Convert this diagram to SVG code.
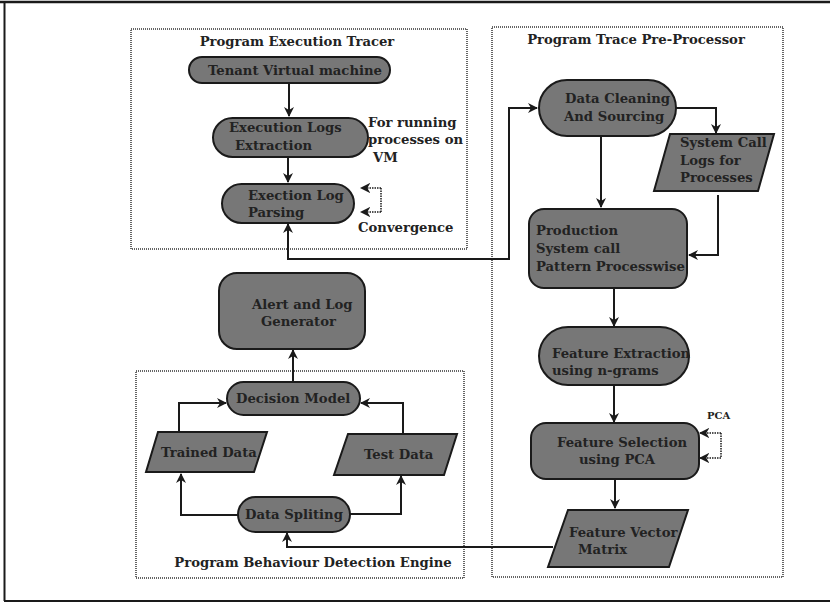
<svg xmlns="http://www.w3.org/2000/svg" width="830" height="603" viewBox="0 0 830 603">
  <defs>
    <marker id="arr" viewBox="0 0 10 10" refX="9" refY="5" markerWidth="5" markerHeight="5" orient="auto-start-reverse" markerUnits="strokeWidth">
      <path d="M0,0 L10,5 L0,10 L3,5 Z" fill="#1a1a1a"/>
    </marker>
    <marker id="arrs" viewBox="0 0 10 10" refX="9" refY="5" markerWidth="7" markerHeight="7" orient="auto" markerUnits="strokeWidth">
      <path d="M0,0 L10,5 L0,10 L3,5 Z" fill="#1a1a1a"/>
    </marker>
  </defs>
  <style>
    text { font-family: "DejaVu Serif", "Liberation Serif", serif; font-weight: bold; fill: #222; font-size: 13.2px; }
    .node { fill: #777; stroke: #1a1a1a; stroke-width: 2; }
    .group { fill: none; stroke: #333; stroke-width: 1.5; stroke-dasharray: 1 1; }
    .conn { fill: none; stroke: #1a1a1a; stroke-width: 2; }
    .loop { fill: none; stroke: #1a1a1a; stroke-width: 1.5; stroke-dasharray: 1.5 1; }
  </style>

  <!-- frame -->
  <g id="frame" stroke="#1a1a1a" fill="none">
    <line x1="0" y1="2" x2="830" y2="2" stroke-width="2.5"/>
    <line x1="4.5" y1="2" x2="4.5" y2="601" stroke-width="2"/>
    <line x1="4" y1="601" x2="830" y2="601" stroke-width="2"/>
  </g>

  <!-- subsystem boxes -->
  <g id="tracer-box">
    <rect class="group" x="131" y="29" width="336" height="220"/>
    <text x="297" y="46" text-anchor="middle">Program Execution Tracer</text>
  </g>
  <g id="preprocessor-box">
    <rect class="group" x="492" y="27" width="291" height="550"/>
    <text x="636" y="44" text-anchor="middle">Program Trace Pre-Processor</text>
  </g>
  <g id="engine-box">
    <rect class="group" x="136" y="371" width="328" height="207"/>
    <text x="313" y="567" text-anchor="middle">Program Behaviour Detection Engine</text>
  </g>

  <!-- connectors -->
  <g id="connectors">
    <path class="conn" d="M289,83 V116" marker-end="url(#arr)"/>
    <path class="conn" d="M288,157 V182" marker-end="url(#arr)"/>
    <path class="conn" d="M288,224 V259 H509 V108 H537" marker-start="url(#arr)" marker-end="url(#arr)"/>
    <path class="conn" d="M676,108 H716 V133" marker-end="url(#arr)"/>
    <path class="conn" d="M601,136 V207" marker-end="url(#arr)"/>
    <path class="conn" d="M718,195 V255 H689" marker-end="url(#arr)"/>
    <path class="conn" d="M614,288 V326" marker-end="url(#arr)"/>
    <path class="conn" d="M614,385 V422" marker-end="url(#arr)"/>
    <path class="conn" d="M615,479 V508" marker-end="url(#arr)"/>
    <path class="conn" d="M553,547 H287 V533" marker-end="url(#arr)"/>
    <path class="conn" d="M238,515 H181 V474" marker-end="url(#arr)"/>
    <path class="conn" d="M350,514 H401 V476" marker-end="url(#arr)"/>
    <path class="conn" d="M179,432 V403 H226" marker-end="url(#arr)"/>
    <path class="conn" d="M403,434 V403 H361" marker-end="url(#arr)"/>
    <path class="conn" d="M293,382 V350" marker-end="url(#arr)"/>
    <!-- self loops -->
    <path class="loop" d="M381,188 V212"/>
    <path class="loop" d="M381,188 H361" marker-end="url(#arrs)"/>
    <path class="loop" d="M381,212 H361" marker-end="url(#arrs)"/>
    <path class="loop" d="M721,433 V458"/>
    <path class="loop" d="M721,433 H700" marker-end="url(#arrs)"/>
    <path class="loop" d="M721,458 H700" marker-end="url(#arrs)"/>
  </g>

  <!-- Program Execution Tracer nodes -->
  <g id="tenant-vm">
    <rect class="node" x="189" y="57" width="201" height="26" rx="13"/>
    <text x="208" y="75">Tenant Virtual machine</text>
  </g>
  <g id="log-extraction">
    <rect class="node" x="213" y="118" width="155" height="39" rx="19.5"/>
    <text x="229" y="132">Execution Logs</text>
    <text x="235" y="150">Extraction</text>
  </g>
  <g id="running-note">
    <text x="368" y="127">For running</text>
    <text x="368" y="144">processes on</text>
    <text x="373" y="162">VM</text>
  </g>
  <g id="log-parsing">
    <rect class="node" x="222" y="184" width="132" height="39" rx="19.5"/>
    <text x="248" y="200">Exection Log</text>
    <text x="248" y="217">Parsing</text>
  </g>
  <g id="convergence-label">
    <text x="358" y="232">Convergence</text>
  </g>

  <!-- Program Trace Pre-Processor nodes -->
  <g id="data-cleaning">
    <rect class="node" x="539" y="80" width="137" height="56" rx="28"/>
    <text x="565" y="103">Data Cleaning</text>
    <text x="564" y="121">And Sourcing</text>
  </g>
  <g id="syscall-logs">
    <polygon class="node" points="670,134 774,134 758,191 654,191"/>
    <text x="680" y="147">System Call</text>
    <text x="680" y="165">Logs for</text>
    <text x="680" y="182">Processes</text>
  </g>
  <g id="pattern-production">
    <rect class="node" x="529" y="209" width="158" height="79" rx="15"/>
    <text x="536" y="235">Production</text>
    <text x="536" y="253">System call</text>
    <text x="536" y="271">Pattern Processwise</text>
  </g>
  <g id="feature-extraction">
    <rect class="node" x="539" y="327" width="150" height="58" rx="29"/>
    <text x="552" y="358">Feature Extraction</text>
    <text x="552" y="375">using n-grams</text>
  </g>
  <g id="feature-selection">
    <rect class="node" x="531" y="423" width="168" height="56" rx="15"/>
    <text x="557" y="447">Feature Selection</text>
    <text x="579" y="464">using PCA</text>
  </g>
  <g id="pca-label">
    <text x="707" y="419" style="font-size:10px">PCA</text>
  </g>
  <g id="feature-vector">
    <polygon class="node" points="568,510 688,510 669,567 548,567"/>
    <text x="569" y="537">Feature Vector</text>
    <text x="578" y="554">Matrix</text>
  </g>

  <!-- Program Behaviour Detection Engine nodes -->
  <g id="alert-generator">
    <rect class="node" x="219" y="273" width="146" height="76" rx="18"/>
    <text x="252" y="309">Alert and Log</text>
    <text x="261" y="326">Generator</text>
  </g>
  <g id="decision-model">
    <rect class="node" x="227" y="382" width="133" height="33" rx="16.5"/>
    <text x="236" y="403">Decision Model</text>
  </g>
  <g id="trained-data">
    <polygon class="node" points="158,432 267,432 254,472 146,472"/>
    <text x="161" y="457">Trained Data</text>
  </g>
  <g id="test-data">
    <polygon class="node" points="348,434 457,434 444,475 334,475"/>
    <text x="364" y="459">Test Data</text>
  </g>
  <g id="data-spliting">
    <rect class="node" x="238" y="497" width="112" height="35" rx="17.5"/>
    <text x="245" y="519">Data Spliting</text>
  </g>
</svg>
